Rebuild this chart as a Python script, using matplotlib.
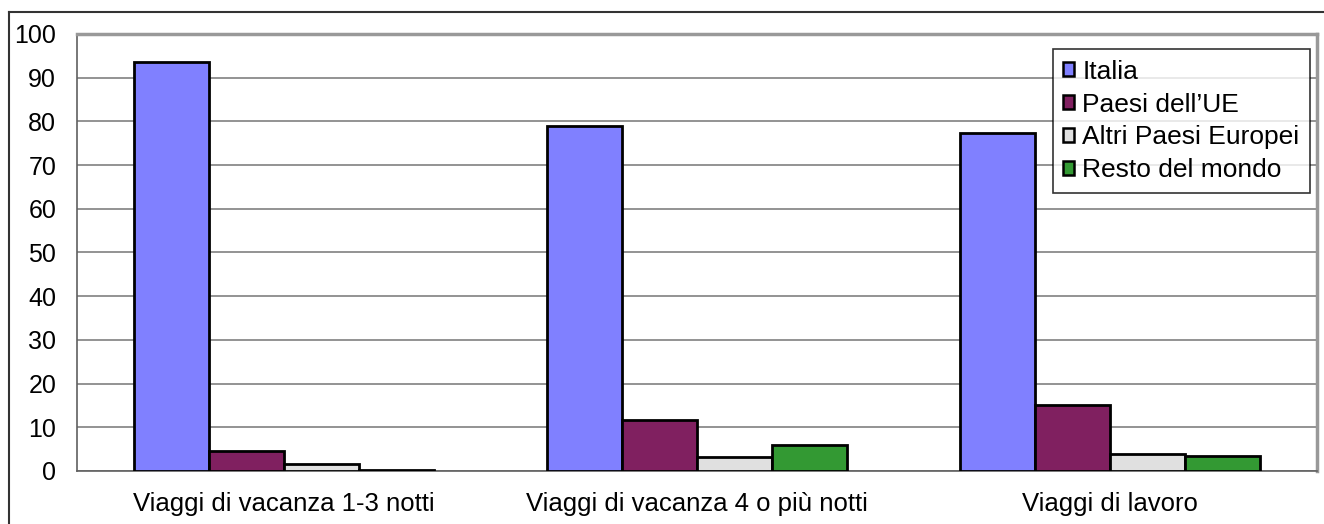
import numpy as np
import matplotlib.pyplot as plt
from matplotlib.lines import Line2D

plt.rcParams['font.family'] = ['Liberation Sans', 'DejaVu Sans']

# Dati
categorie = ['Viaggi di vacanza 1-3 notti', 'Viaggi di vacanza 4 o più notti', 'Viaggi di lavoro']
serie = ['Italia', "Paesi dell’UE", 'Altri Paesi Europei', 'Resto del mondo']
italia = [93.5, 79.0, 77.3]
paesi_ue = [4.6, 11.7, 15.2]
altri_europei = [1.6, 3.1, 3.9]
resto_mondo = [0.3, 5.9, 3.5]
colori = ['#8080FF', '#802060', '#E0E0E0', '#339933']

valori = [italia, paesi_ue, altri_europei, resto_mondo]

fig = plt.figure(figsize=(13.24, 5.24), dpi=100)
ax = fig.add_axes([77 / 1324, 1 - 471 / 524, 1240 / 1324, 437 / 524])

x = np.arange(len(categorie))
w = 0.1815
for i, (vals, nome, col) in enumerate(zip(valori, serie, colori)):
    ax.bar(x + (i - 1.5) * w, vals, w, color=col, edgecolor='black',
           linewidth=2, label=nome, zorder=3)

ax.set_xlim(-0.5, 2.5)
ax.set_ylim(0, 100)
ax.set_yticks(np.arange(0, 101, 10))
ax.set_xticks(x)
ax.set_xticklabels(categorie, fontsize=18.5)
ax.tick_params(axis='y', labelsize=18, length=0, pad=15)
ax.tick_params(axis='x', length=0, pad=15)
ax.yaxis.grid(True, color='#808080', linewidth=1.2, zorder=0)
ax.set_axisbelow(True)

ax.spines['left'].set_color('#606060')
ax.spines['left'].set_linewidth(1.2)
ax.spines['bottom'].set_color('#606060')
ax.spines['bottom'].set_linewidth(1.2)
ax.spines['top'].set_color('#999999')
ax.spines['top'].set_linewidth(2.5)
ax.spines['right'].set_color('#999999')
ax.spines['right'].set_linewidth(2.5)

leg = ax.legend(loc='upper right', bbox_to_anchor=(1233 / 1240, 1 - 15 / 437),
                fontsize=19, frameon=True, fancybox=False, edgecolor='black',
                handlelength=0.42, handleheight=0.42, handletextpad=0.3,
                borderpad=0.4, labelspacing=0.34, borderaxespad=0)
leg.get_frame().set_linewidth(1.2)
for h in leg.legend_handles:
    h.set_linewidth(1.8)

# cornice esterna
fig.add_artist(Line2D([9 / 1324, 9 / 1324], [0, 1 - 12 / 524], color='#333333',
                      linewidth=1.5, transform=fig.transFigure))
fig.add_artist(Line2D([9 / 1324, 1], [1 - 12 / 524, 1 - 12 / 524], color='#333333',
                      linewidth=1.5, transform=fig.transFigure))

fig.savefig('out.png', dpi=100)
